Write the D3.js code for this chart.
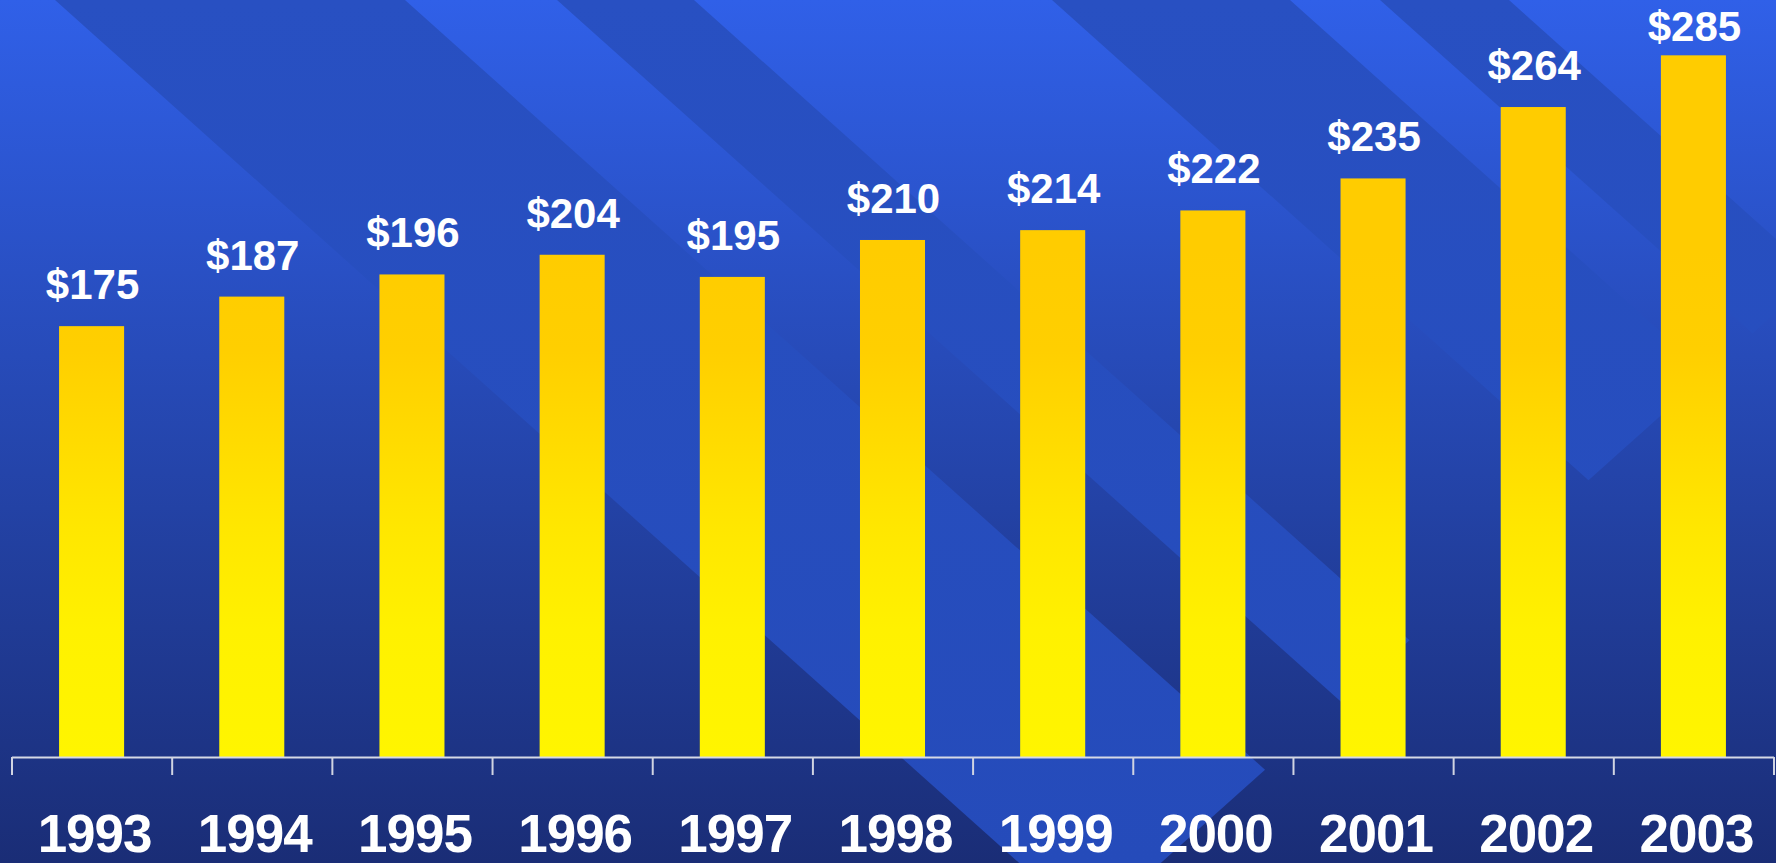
<!DOCTYPE html>
<html>
<head>
<meta charset="utf-8">
<script src="https://cdn.jsdelivr.net/npm/d3@7"></script>
<style>
  html, body { margin: 0; padding: 0; overflow: hidden; background: #1a2e78; }
  svg { display: block; }
  text { font-family: "Liberation Sans", Arial, Helvetica, sans-serif; font-weight: bold; }
</style>
</head>
<body>
<svg id="chart" width="1776" height="863"></svg>
<script>
// ---- data ----
const years = ["1993", "1994", "1995", "1996", "1997", "1998", "1999", "2000", "2001", "2002", "2003"];
const values = [175, 187, 196, 204, 195, 210, 214, 222, 235, 264, 285];
const valueLabels = ["$175", "$187", "$196", "$204", "$195", "$210", "$214", "$222", "$235", "$264", "$285"];

// ---- decoration (background diagonal bands of the slide template) ----
const bandEdges = [[55, 405], [557, 694], [1052, 1290], [1380, 1509]];
const bandSlope = 0.895;
const bandEnd = 2125;

const W = 1776, H = 863;
const svg = d3.select("#chart");
const defs = svg.append("defs");

const bgGrad = defs.append("linearGradient").attr("id", "bg")
  .attr("gradientUnits", "userSpaceOnUse").attr("x1", 0).attr("y1", 0).attr("x2", 0).attr("y2", H);
bgGrad.append("stop").attr("offset", 0).attr("stop-color", "#3060e8");
bgGrad.append("stop").attr("offset", 1).attr("stop-color", "#1a2d76");

const bandGrad = defs.append("linearGradient").attr("id", "band")
  .attr("gradientUnits", "userSpaceOnUse").attr("x1", 0).attr("y1", 0).attr("x2", 0).attr("y2", H);
bandGrad.append("stop").attr("offset", 0).attr("stop-color", "#2850c2");
bandGrad.append("stop").attr("offset", 1).attr("stop-color", "#254bba");

const barGrad = defs.append("linearGradient").attr("id", "bar")
  .attr("gradientUnits", "userSpaceOnUse").attr("x1", 0).attr("y1", 250).attr("x2", 0).attr("y2", 757);
[[0, "#ffcc00"], [0.2, "#ffcf00"], [0.55, "#ffe700"], [0.75, "#fff100"], [1, "#fff500"]]
  .forEach(([o, c]) => barGrad.append("stop").attr("offset", o).attr("stop-color", c));

svg.append("rect").attr("width", W).attr("height", H).attr("fill", "url(#bg)");

const k = 1 / bandSlope;
const corner = (c, e) => [(c + e) / 2, (e - c) / (2 * k)];
svg.append("g").selectAll("path").data(bandEdges).join("path")
  .attr("fill", "url(#band)")
  .attr("d", ([c1, c2]) => {
    const pts = [corner(c1, -1500), corner(c2, -1500), corner(c2, bandEnd), corner(c1, bandEnd)];
    return "M" + pts.map(p => p.join(",")).join("L") + "Z";
  });

// ---- scales ----
const x = d3.scaleBand().domain(years).range([11.5, 1773.5]).paddingInner(0.594).paddingOuter(0.297);
const y = d3.scaleLinear().domain([0, 300]).range([757, 18.4]);

// ---- bars ----
svg.append("g").selectAll("rect").data(years).join("rect")
  .attr("x", d => x(d))
  .attr("width", x.bandwidth())
  .attr("y", (d, i) => y(values[i]))
  .attr("height", (d, i) => y(0) - y(values[i]))
  .attr("fill", "url(#bar)");

// ---- value labels ----
svg.append("g").selectAll("text").data(years).join("text")
  .attr("x", d => x(d) + x.bandwidth() / 2 + 1)
  .attr("y", (d, i) => Math.max(y(values[i]) - 27, 41))
  .attr("text-anchor", "middle")
  .attr("font-size", 42)
  .attr("fill", "#ffffff")
  .text((d, i) => valueLabels[i]);

// ---- axis with ticks at category boundaries ----
const xb = d3.scaleLinear().domain([0, years.length]).range(x.range());
const tickAxis = svg.append("g").attr("transform", `translate(0,${y(0)})`)
  .call(d3.axisBottom(xb).tickValues(d3.range(years.length + 1)).tickFormat("")
    .tickSizeInner(18).tickSizeOuter(0));
tickAxis.select(".domain").attr("stroke", "#d6d9e6").attr("stroke-width", 2.2);
tickAxis.selectAll(".tick line").attr("stroke", "#d0d4e2").attr("stroke-width", 2);

// ---- year labels ----
const yearAxis = svg.append("g").attr("transform", `translate(0,${y(0)})`)
  .call(d3.axisBottom(x).tickSize(0).tickFormat((d, i) => years[i]));
yearAxis.select(".domain").remove();
yearAxis.selectAll(".tick text")
  .attr("y", 95).attr("dy", null)
  .attr("dx", 3)
  .attr("font-size", 53)
  .attr("font-family", "'Liberation Sans', Arial, sans-serif")
  .attr("font-weight", "bold")
  .attr("letter-spacing", -1)
  .attr("fill", "#ffffff");
</script>
</body>
</html>
